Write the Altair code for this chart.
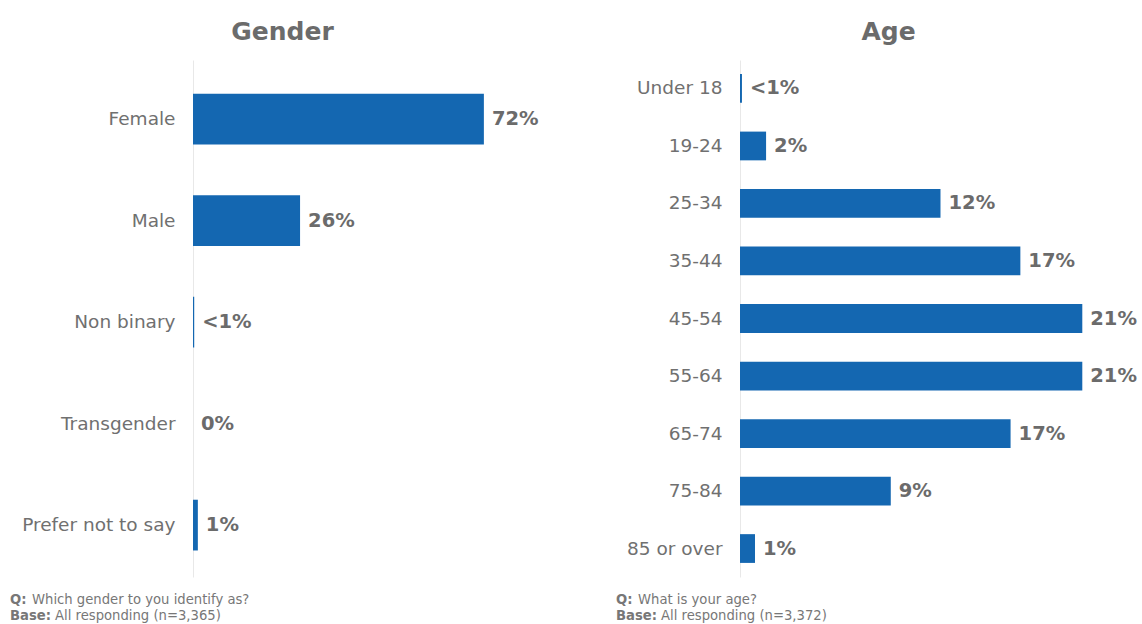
import altair as alt
import pandas as pd

# ---- data ----
gender_cats = ["Female", "Male", "Non binary", "Transgender", "Prefer not to say"]
gender_vals = [72.0, 26.5, 0.3, 0.0, 1.2]
gender_labels = ["72%", "26%", "<1%", "0%", "1%"]

age_cats = ["Under 18", "19-24", "25-34", "35-44", "45-54", "55-64", "65-74", "75-84", "85 or over"]
age_vals = [0.12, 1.6, 12.3, 17.2, 21.0, 21.0, 16.6, 9.25, 0.92]
age_labels = ["<1%", "2%", "12%", "17%", "21%", "21%", "17%", "9%", "1%"]

gender_q = "Which gender to you identify as?"
gender_base = "All responding (n=3,365)"
age_q = "What is your age?"
age_base = "All responding (n=3,372)"

# ---- style ----
FONT = "DejaVu Sans"
BLUE = "#1467B1"
GREY = "#6b6b6b"
LABEL_GREY = "#707070"
FOOT_GREY = "#777777"
H = 517


def panel(cats, vals, labels, title, width, dmax, q, base, foot_x, title_dx,
          po, align, pi):
    df = pd.DataFrame({"cat": cats, "val": vals, "label": labels})
    y = alt.Y("cat:N", sort=cats,
              scale=alt.Scale(paddingInner=pi, paddingOuter=po, align=align),
              axis=alt.Axis(title=None, ticks=False, labelFontSize=18.5,
                            labelColor=LABEL_GREY, labelFont=FONT, labelPadding=18,
                            domainColor="#e8e8e8", domainWidth=1, grid=False))
    x = alt.X("val:Q", scale=alt.Scale(domain=[0, dmax], nice=False, zero=True), axis=None)
    bars = alt.Chart(df).mark_bar(color=BLUE).encode(x=x, y=y)
    text = alt.Chart(df).mark_text(align="left", baseline="middle", dx=8, font=FONT,
                                   fontWeight="bold", fontSize=19.5, color=GREY).encode(
        x=x, y=y, text="label:N")
    one = pd.DataFrame({"a": [0]})

    def note(t, bold, dx, dy):
        return alt.Chart(one).mark_text(
            text=t, align="left", baseline="middle", font=FONT, fontSize=13.2,
            fontWeight="bold" if bold else "normal", color=FOOT_GREY
        ).encode(x=alt.value(foot_x + dx), y=alt.value(H + dy))

    notes = [note("Q:", True, 0, 23), note(q, False, 22, 23),
             note("Base:", True, 0, 39), note(base, False, 45, 39)]
    return alt.layer(bars, text, *notes).properties(
        width=width, height=H,
        title=alt.TitleParams(title, fontSize=25, font=FONT, fontWeight="bold",
                              color=GREY, offset=15, dx=title_dx))


g = panel(gender_cats, gender_vals, gender_labels, "Gender", 367, 367 / 4.04,
          gender_q, gender_base, -183, -94, 0.297, 0.56, 0.5)
a = panel(age_cats, age_vals, age_labels, "Age", 397, 397 / 16.3,
          age_q, age_base, -124, -50, 0.245, 0.5, 0.5)

chart = alt.hconcat(g, a, spacing=56).properties(
    padding={"left": 10, "top": 20, "right": 5, "bottom": 5},
    background="white"
).configure_view(stroke=None)

chart.save("out.html", embed_options={"renderer": "svg", "actions": False})
